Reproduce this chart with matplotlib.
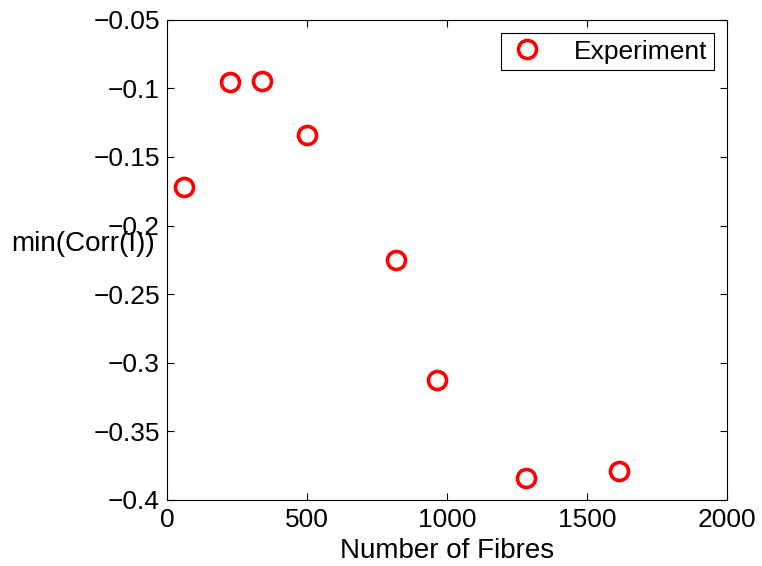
import matplotlib
matplotlib.use("Agg")
import matplotlib.pyplot as plt

fibres = [60, 225, 339, 500, 818, 964, 1282, 1614]
min_corr = [-0.1717, -0.0952, -0.0945, -0.1338, -0.2249, -0.3130, -0.3838, -0.3787]
xticks = [0, 500, 1000, 1500, 2000]
yticks = [-0.4, -0.35, -0.3, -0.25, -0.2, -0.15, -0.1, -0.05]
ytick_labels = ["\u22120.4", "\u22120.35", "\u22120.3", "\u22120.25", "\u22120.2", "\u22120.15", "\u22120.1", "\u22120.05"]

plt.rcParams['font.family'] = ['Liberation Sans', 'DejaVu Sans']
fig = plt.figure(figsize=(7.62, 5.66), dpi=100)
ax = fig.add_axes([0.219, 0.117, 0.735, 0.848])
ax.plot(fibres, min_corr, 'o', markerfacecolor='none', markeredgecolor='#ff0000',
        markersize=13, markeredgewidth=2.6, linestyle='none', label='Experiment')
ax.set_xlim(0, 2000)
ax.set_ylim(-0.4, -0.05)
ax.set_xticks(xticks)
ax.set_xticklabels([str(t) for t in xticks])
ax.set_yticks(yticks)
ax.set_yticklabels(ytick_labels)
ax.tick_params(direction='in', labelsize=19, top=True, right=True, length=5)
ax.tick_params(axis='x', pad=6)
ax.tick_params(axis='y', pad=5)
for s in ax.spines.values():
    s.set_linewidth(0.8)
ax.set_xlabel('Number of Fibres', fontsize=20, labelpad=4)
ax.set_ylabel('min(Corr(I))', fontsize=20, rotation=0, labelpad=0)
ax.yaxis.set_label_coords(-0.278, 0.532)
ax.yaxis.label.set_horizontalalignment('left')
ax.yaxis.label.set_verticalalignment('center')
leg = ax.legend(loc='upper right', fontsize=19, fancybox=False, edgecolor='black',
                framealpha=1, borderaxespad=0.5, handletextpad=1.0, borderpad=0.25,
                handlelength=1.5)
leg.get_frame().set_linewidth(0.8)
fig.savefig('out.png', dpi=100)
